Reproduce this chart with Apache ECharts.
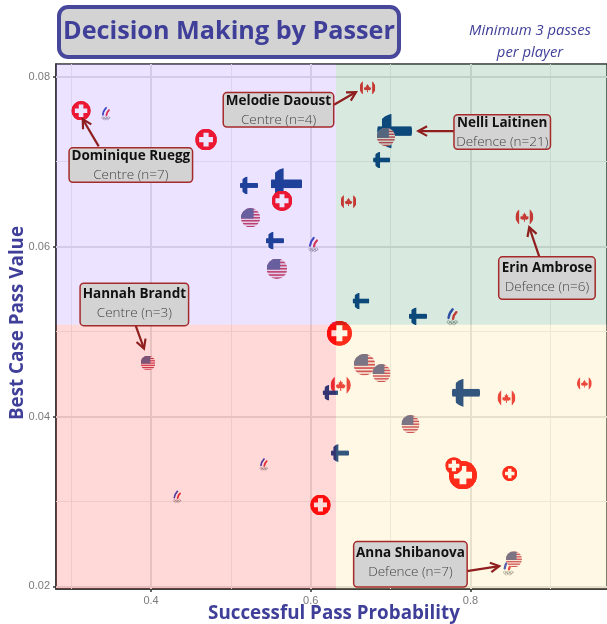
<!DOCTYPE html>
<html>
<head>
<meta charset="utf-8">
<style>
	html, body { margin: 0; padding: 0; background: #fff; }
	#my_echarts { width: 607px; height: 624px; }
</style>
<script src="https://cdn.jsdelivr.net/npm/echarts@6/dist/echarts.min.js"></script>
</head>
<body>
<div id="my_echarts"></div>
<script>
// [pass probability, pass value, passes]
var canada = [[0.6711, 0.0787, 4], [0.6473, 0.0653, 4], [0.8676, 0.0635, 6], [0.6375, 0.0437, 8], [0.8451, 0.0422, 6], [0.9427, 0.0439, 3]];
var oar = [[0.3433, 0.0757, 4], [0.6032, 0.0603, 6], [0.7772, 0.0518, 8], [0.4326, 0.0306, 3], [0.5411, 0.0344, 3], [0.8473, 0.0223, 7]];
var finland = [[0.7050, 0.0736, 21], [0.6887, 0.0702, 5], [0.5227, 0.0672, 6], [0.5696, 0.0674, 18], [0.5552, 0.0607, 6], [0.6629, 0.0536, 5], [0.7343, 0.0518, 6], [0.7944, 0.0428, 15], [0.6247, 0.0428, 4], [0.6366, 0.0357, 6]];
var usa = [[0.6942, 0.0729, 6], [0.5246, 0.0634, 7], [0.5577, 0.0574, 8], [0.3962, 0.0463, 3], [0.6673, 0.0461, 9], [0.6886, 0.0451, 6], [0.7249, 0.0391, 6], [0.8545, 0.0232, 4]];
var swiss = [[0.3124, 0.0760, 7], [0.4689, 0.0726, 9], [0.5640, 0.0654, 8], [0.6359, 0.0498, 12], [0.6122, 0.0296, 8], [0.7906, 0.0331, 15], [0.7793, 0.0342, 5], [0.8492, 0.0333, 3]];

var xTicks = [0.4, 0.6, 0.8];
var xMinor = [0.3, 0.5, 0.7, 0.9];
var yTicks = [0.02, 0.04, 0.06, 0.08];
var yMinor = [0.03, 0.05, 0.07];
var xMin = 0.281, xMax = 0.971, yMin = 0.0197, yMax = 0.0815;
var xSplit = 0.6316, ySplit = 0.0508;

var calloutNames = ['Dominique Ruegg', 'Melodie Daoust', 'Nelli Laitinen', 'Hannah Brandt', 'Erin Ambrose', 'Anna Shibanova'];
var calloutRoles = ['Centre (n=7)', 'Centre (n=4)', 'Defence (n=21)', 'Centre (n=3)', 'Defence (n=6)', 'Defence (n=7)'];
var calloutCentres = [[0.3747, 0.0696], [0.5596, 0.0761], [0.8398, 0.0735], [0.3791, 0.0532], [0.8958, 0.0563], [0.7248, 0.0226]];
var calloutSizes = [[122, 33], [109, 33], [95, 33], [107, 38], [95, 38], [112, 41]];
var calloutPadTop = [0, 0, 0, 3, 3, 3];
// start x, start y, tip x, tip y
var calloutArrows = [[0.3345, 0.0718, 0.3145, 0.0750], [0.6291, 0.0767, 0.6567, 0.0782], [0.7793, 0.0736, 0.7347, 0.0736], [0.3800, 0.0509, 0.3912, 0.0480], [0.8870, 0.0586, 0.8736, 0.0623], [0.7956, 0.0218, 0.8361, 0.0224]];

var INK = '#3f3f99';
var CLIP = '<clipPath id="c"><circle cx="50" cy="50" r="50"/></clipPath>';

function svgIcon(body) {
	var svg = '<svg xmlns="http://www.w3.org/2000/svg" width="200" height="200" viewBox="0 0 100 100">' + CLIP + body + '</svg>';
	return 'image://data:image/svg+xml;charset=utf-8,' + encodeURIComponent(svg);
}

var finlandIcon = svgIcon('<g clip-path="url(#c)" fill="#003580"><rect x="0" y="36.5" width="100" height="27"/><rect x="14" y="0" width="27" height="100"/></g>');

var canadaIcon = svgIcon('<g clip-path="url(#c)"><rect width="100" height="100" fill="#fff"/><rect width="21" height="100" fill="#e8222b"/><rect x="79" width="21" height="100" fill="#e8222b"/>' +
	'<path transform="translate(10 10) scale(0.8)" fill="#e8222b" d="M50 18 L56 34 L63 31 L60 47 L69 42 L72 49 L80 48 L76 58 L79 61 L66 70 L53 68 L54 84 L46 84 L47 68 L34 70 L21 61 L24 58 L20 48 L28 49 L31 42 L40 47 L37 31 L44 34 Z"/></g>');

var stripes = '';
for (var i = 0; i < 13; i += 2) {
	stripes += '<rect y="' + (i * 100 / 13) + '" width="100" height="' + (100 / 13) + '" fill="#c8324a"/>';
}
var usaIcon = svgIcon('<g clip-path="url(#c)"><rect width="100" height="100" fill="#f3e6e6"/>' + stripes + '<rect width="66" height="54" fill="#5a5a86"/></g>');

var swissIcon = svgIcon('<circle cx="50" cy="50" r="50" fill="#ff0000"/><circle cx="50" cy="50" r="50" fill="#ff0000"/><path fill="#fff" d="M38 18 H62 V38 H82 V62 H62 V82 H38 V62 H18 V38 H38 Z"/>');

var oarIcon = svgIcon('<g fill="none" stroke-linecap="round"><path d="M32 58 Q34 36 52 16" stroke="#2d3fb8" stroke-width="12"/><path d="M44 60 Q46 38 62 22" stroke="#fff" stroke-width="8"/><path d="M54 62 Q56 44 70 30" stroke="#e0282e" stroke-width="12"/>' +
	'<g stroke="#8a8a8a" stroke-width="3"><circle cx="32" cy="78" r="7"/><circle cx="50" cy="78" r="7"/><circle cx="68" cy="78" r="7"/><circle cx="41" cy="85" r="7"/><circle cx="59" cy="85" r="7"/></g></g>');

function flagSeries(data, icon) {
	return {
		type: 'scatter',
		z: 2,
		data: data,
		symbol: icon,
		symbolSize: function(val) {
			return 11.5 + 1.12 * val[2];
		},
		itemStyle: { opacity: 1 },
		silent: true
	};
}

function gridLines(values, key, color, width) {
	return values.map(function(v) {
		var d = {};
		d[key] = v;
		d.lineStyle = { color: color, width: width, type: 'solid' };
		return d;
	});
}

function quadrant(x0, y0, x1, y1, color) {
	return [{ coord: [x0, y0], itemStyle: { color: color } }, { coord: [x1, y1] }];
}

var myChart = echarts.init(document.getElementById('my_echarts'));

var option = {
	animation: false,
	backgroundColor: '#ffffff',
	title: [{
		text: 'Decision Making by Passer',
		left: 59,
		top: 7,
		padding: [7, 4, 8, 4],
		backgroundColor: '#d3d3d3',
		borderColor: '#47479c',
		borderWidth: 4,
		borderRadius: 9,
		textStyle: { fontFamily: 'Open Sans', fontWeight: 700, fontSize: 25.2, color: INK, lineHeight: 35 }
	}, {
		text: 'Minimum 3 passes\nper player',
		left: 525,
		top: 15,
		textAlign: 'center',
		textStyle: { fontFamily: 'Open Sans', fontStyle: 'italic', fontWeight: 400, fontSize: 14.8, color: INK, lineHeight: 22 }
	}],
	grid: {
		show: true,
		left: 56,
		right: 0,
		top: 64,
		bottom: 35,
		outerBoundsMode: 'none',
		backgroundColor: '#ffffff',
		borderColor: '#333333',
		borderWidth: 1.5
	},
	xAxis: {
		type: 'value',
		min: xMin,
		max: xMax,
		name: 'Successful Pass Probability',
		nameLocation: 'middle',
		nameGap: 12,
		nameMoveOverlap: false,
		nameTextStyle: { fontFamily: 'Open Sans', fontWeight: 700, fontSize: 18.8, color: INK, verticalAlign: 'top', padding: [3, 0, 0, 5] },
		axisLine: { lineStyle: { color: '#333333', width: 1.5 } },
		axisTick: { show: true, length: 3, customValues: xTicks, lineStyle: { color: '#333333', width: 1.5 } },
		axisLabel: { customValues: xTicks, color: '#7a7a7a', fontSize: 11, fontFamily: 'Liberation Sans', margin: 6, formatter: function(v) { return v.toFixed(1); } },
		splitLine: { show: false }
	},
	yAxis: {
		type: 'value',
		min: yMin,
		max: yMax,
		name: 'Best Case Pass Value',
		nameLocation: 'middle',
		nameGap: 29,
		nameMoveOverlap: false,
		nameTextStyle: { fontFamily: 'Open Sans', fontWeight: 700, fontSize: 18.8, color: INK, padding: [0, 0, 0, 7] },
		axisLine: { lineStyle: { color: '#333333', width: 1.5 } },
		axisTick: { show: true, length: 3, customValues: yTicks, lineStyle: { color: '#333333', width: 1.5 } },
		axisLabel: { customValues: yTicks, color: '#7a7a7a', fontSize: 11, fontFamily: 'Liberation Sans', margin: 6, formatter: function(v) { return v.toFixed(2); } },
		splitLine: { show: false }
	},
	series: [{
		// panel grid
		type: 'scatter',
		data: [],
		z: 1,
		silent: true,
		markLine: {
			z: 1,
			silent: true,
			symbol: 'none',
			animation: false,
			label: { show: false },
			data: gridLines(xMinor, 'xAxis', '#ebebeb', 1)
				.concat(gridLines(yMinor, 'yAxis', '#ebebeb', 1))
				.concat(gridLines(xTicks, 'xAxis', '#e2e2e2', 2))
				.concat(gridLines(yTicks, 'yAxis', '#e2e2e2', 2))
		}
	},
		flagSeries(canada, canadaIcon),
		flagSeries(oar, oarIcon),
		flagSeries(finland, finlandIcon),
		flagSeries(usa, usaIcon),
		flagSeries(swiss, swissIcon),
	{
		// quadrant tints sit over the flags, same as the reference
		type: 'scatter',
		data: [],
		silent: true,
		markArea: {
			z: 3,
			silent: true,
			animation: false,
			data: [
				quadrant(xMin, ySplit, xSplit, yMax, 'rgba(155,115,255,0.2)'),
				quadrant(xSplit, ySplit, xMax, yMax, 'rgba(60,150,95,0.2)'),
				quadrant(xMin, yMin, xSplit, ySplit, 'rgba(255,60,60,0.2)'),
				quadrant(xSplit, yMin, xMax, ySplit, 'rgba(255,220,125,0.2)')
			]
		}
	}, {
		type: 'custom',
		z: 4,
		silent: true,
		clip: false,
		data: calloutArrows,
		renderItem: function(params, api) {
			var a = api.coord([api.value(0), api.value(1)]);
			var b = api.coord([api.value(2), api.value(3)]);
			var ang = Math.atan2(a[1] - b[1], a[0] - b[0]);
			var head = 10, spread = 0.5;
			var stroke = { stroke: '#8f1f1f', lineWidth: 2.2, fill: null };
			return {
				type: 'group',
				children: [{
					type: 'polyline',
					shape: { points: [a, b] },
					style: stroke
				}, {
					type: 'polyline',
					shape: { points: [
						[b[0] + head * Math.cos(ang + spread), b[1] + head * Math.sin(ang + spread)],
						b,
						[b[0] + head * Math.cos(ang - spread), b[1] + head * Math.sin(ang - spread)]
					] },
					style: stroke
				}]
			};
		}
	}, {
		type: 'scatter',
		z: 5,
		silent: true,
		symbolSize: 1,
		itemStyle: { color: 'rgba(0,0,0,0)', opacity: 1 },
		data: calloutCentres.map(function(c, i) {
			return {
				value: c,
				label: {
					width: calloutSizes[i][0],
					height: calloutSizes[i][1],
					padding: [calloutPadTop[i], 0, 0, 0],
					formatter: '{n|' + calloutNames[i] + '}\n{r|' + calloutRoles[i] + '}'
				}
			};
		}),
		label: {
			show: true,
			position: 'inside',
			align: 'center',
			verticalAlign: 'middle',
			backgroundColor: '#d3d3d3',
			borderColor: '#a52a2a',
			borderWidth: 1.5,
			borderRadius: 3,
			rich: {
				n: { fontFamily: 'Open Sans', fontWeight: 700, fontSize: 13.5, color: '#111111', lineHeight: 15, align: 'center' },
				r: { fontFamily: 'Open Sans', fontWeight: 300, fontSize: 13.5, color: '#444444', lineHeight: 23, align: 'center' }
			}
		}
	}]
};
myChart.setOption(option);
</script>
</body>
</html>
